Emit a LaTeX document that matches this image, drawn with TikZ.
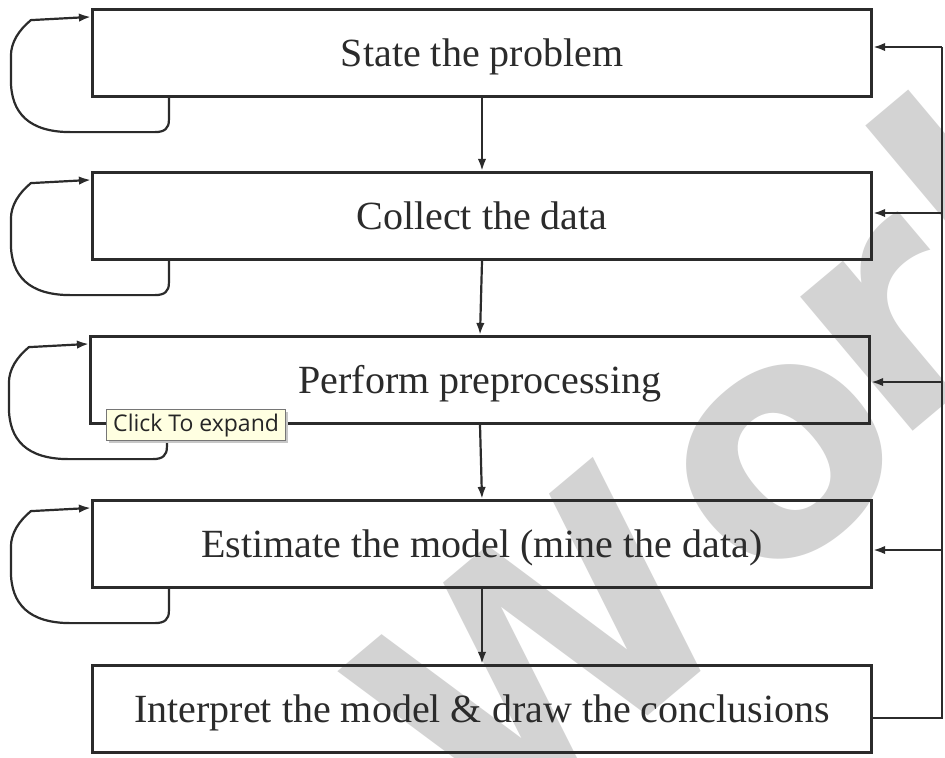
\documentclass[tikz,border=0pt]{standalone}
\usepackage{fontspec}
\setmainfont{Liberation Serif}
\newfontfamily\wmfont{DejaVu Sans}
\newfontfamily\tipfont{Open Sans}
\usetikzlibrary{arrows.meta,calc}
\definecolor{wmgray}{HTML}{D3D3D3}
\definecolor{ink}{HTML}{2B2B2B}
\definecolor{tipfill}{HTML}{FFFFE1}
\definecolor{tipborder}{HTML}{767676}
\newcommand{\selfloop}[1]{%
  \begin{scope}[shift={(#1.south west)}]
    \draw[conn,-{Latex[length=6pt,width=4.2pt]}] (78,0) -- (78,22) .. controls (78,30) and (74,34) .. (64,34) -- (-20,34) .. controls (-62,34) and (-80,15) .. (-80,-18) -- (-80,-42) .. controls (-80,-56) and (-72,-68) .. (-60,-78) -- ([yshift=-4.5pt]#1.north west);
  \end{scope}}
\begin{document}
\begin{tikzpicture}[x=0.5pt,y=-0.5pt,
  box/.style={draw=ink, line width=1.6pt, minimum width=389.5pt, minimum height=43.5pt, inner sep=0pt, text height=16pt, text depth=3pt, text=ink, font=\fontsize{20}{24}\selectfont},
  conn/.style={draw=ink, line width=1.1pt},
  fb/.style={conn,-{Latex[length=6pt,width=4.2pt]}},
  wm/.style={rotate=40, inner sep=0pt, text=wmgray, font=\wmfont\bfseries\fontsize{160}{160}\selectfont},
  tipbox/.style={draw=tipborder, fill=tipfill, line width=0.6pt, inner sep=0pt, text=black!85, font=\tipfont\fontsize{11.5}{12}\selectfont}]
\useasboundingbox (0,0) rectangle (945,757);
\fill[white] (0,0) rectangle (945,757);
% watermark letters
\node[wm, anchor=north west] (wmW) at (330,678) {W};
\node[wm, anchor=center] (wmo) at (785,462) {o};
\node[wm, anchor=center] (wmr) at (895,329) {r};
\node[wm, anchor=center] (wml) at (965,201) {l};
% boxes
\node[box] (b1) at (482,53) {State the problem};
\node[box] (b2) at (482,216) {Collect the data};
\node[box] (b3) at (480,380) {Perform preprocessing};
\node[box] (b4) at (482,544) {Estimate the model (mine the data)};
\node[box] (b5) at (482,709) {Interpret the model \& draw the conclusions};
% forward arrows
\draw[fb] (b1.south) -- (b2.north);
\draw[fb] (b2.south) -- (b3.north);
\draw[fb] (b3.south) -- (b4.north);
\draw[fb] (b4.south) -- (b5.north);
% self loops
\selfloop{b1}
\selfloop{b2}
\selfloop{b3}
\selfloop{b4}
% feedback on the right
\coordinate (r1) at (942,47);
\coordinate (r2) at (942,213);
\coordinate (r3) at (942,382);
\coordinate (r4) at (942,550);
\coordinate (r5) at (942,718);
\draw[conn] (r5 -| b5.east) -- (r5) -- (r1);
\draw[fb] (r1) -- (r1 -| b1.east);
\draw[fb] (r2) -- (r2 -| b2.east);
\draw[fb] (r3) -- (r3 -| b3.east);
\draw[fb] (r4) -- (r4 -| b4.east);
% tooltip
\fill[black!22] (109,412) rectangle (288,443);
\node[tipbox, anchor=north west, minimum width=89.5pt, minimum height=15.5pt] (tip) at (106,409) {Click To expand};
\end{tikzpicture}
\end{document}
